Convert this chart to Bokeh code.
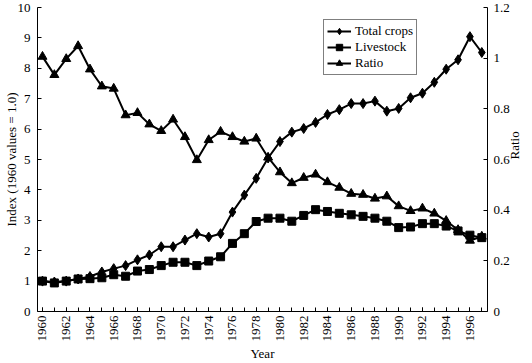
import math
from bokeh.plotting import figure
from bokeh.models import (Range1d, LinearAxis, FixedTicker, CustomJSTickFormatter,
                          Legend, LegendItem)
from bokeh.embed import file_html
from bokeh.resources import INLINE

years = list(range(1960, 1998))
total_crops = [1.00, 0.97, 1.00, 1.07, 1.15, 1.30, 1.41, 1.51, 1.70, 1.86,
               2.13, 2.13, 2.35, 2.56, 2.45, 2.56, 3.27, 3.83, 4.38, 5.05,
               5.59, 5.90, 6.02, 6.22, 6.48, 6.64, 6.84, 6.84, 6.92, 6.59,
               6.68, 7.03, 7.18, 7.54, 7.97, 8.28, 9.04, 8.52]
livestock = [1.00, 0.94, 1.00, 1.07, 1.08, 1.11, 1.21, 1.16, 1.33, 1.38,
             1.51, 1.62, 1.62, 1.51, 1.66, 1.80, 2.24, 2.56, 2.96, 3.07,
             3.07, 2.97, 3.16, 3.35, 3.29, 3.23, 3.18, 3.13, 3.07, 2.97,
             2.76, 2.78, 2.89, 2.89, 2.81, 2.65, 2.51, 2.43]
ratio = [1.006, 0.934, 0.997, 1.048, 0.956, 0.889, 0.880, 0.775, 0.784, 0.739,
         0.713, 0.758, 0.689, 0.598, 0.677, 0.710, 0.689, 0.671, 0.683, 0.608,
         0.550, 0.507, 0.528, 0.541, 0.511, 0.489, 0.465, 0.461, 0.446, 0.455,
         0.416, 0.397, 0.407, 0.387, 0.358, 0.322, 0.280, 0.296]

left_ticks = list(range(0, 11))
right_ticks = [0, 0.2, 0.4, 0.6, 0.8, 1.0, 1.2]
x_major = list(range(1960, 1998, 2))

x_title = "Year"
y_title = "Index (1960 values = 1.0)"
y2_title = "Ratio"

FONT = "Liberation Serif"
FS = "13px"
INK = "#000000"

p = figure(width=532, height=363, output_backend="svg", toolbar_location=None,
           x_range=Range1d(1959.58, 1997.48), y_range=Range1d(0, 10),
           min_border_left=36, min_border_right=42, min_border_top=7,
           min_border_bottom=51)
p.extra_y_ranges = {"ratio": Range1d(0, 1.2)}
p.outline_line_color = None
p.grid.visible = False
p.background_fill_color = "white"
p.border_fill_color = "white"

r1l = p.line(years, total_crops, line_color=INK, line_width=2)
r1m = p.scatter(years, total_crops, marker="diamond", size=10,
                fill_color=INK, line_color=INK)
r2l = p.line(years, livestock, line_color=INK, line_width=2)
r2m = p.scatter(years, livestock, marker="square", size=8,
                fill_color=INK, line_color=INK)
r3l = p.line(years, ratio, line_color=INK, line_width=2, y_range_name="ratio")
r3m = p.scatter(years, ratio, marker="triangle", size=9,
                fill_color=INK, line_color=INK, y_range_name="ratio")

xa = p.xaxis[0]
xa.ticker = FixedTicker(ticks=x_major, minor_ticks=years)
xa.major_label_orientation = math.pi / 2
xa.axis_label = x_title
xa.major_tick_in = 4
xa.major_tick_out = 0
xa.minor_tick_in = 4
xa.minor_tick_out = 0
xa.major_label_standoff = 4
xa.axis_label_standoff = 1

ya = p.yaxis[0]
ya.ticker = FixedTicker(ticks=left_ticks)
ya.axis_label = y_title
ya.major_tick_in = 4
ya.major_tick_out = 0
ya.minor_tick_in = 0
ya.minor_tick_out = 0
ya.major_label_standoff = 7
ya.axis_label_standoff = -4

ra = LinearAxis(y_range_name="ratio", ticker=FixedTicker(ticks=right_ticks),
                formatter=CustomJSTickFormatter(code="return String(Math.round(tick*10)/10);"),
                axis_label=y2_title)
ra.major_tick_in = 4
ra.major_tick_out = 0
ra.minor_tick_in = 0
ra.minor_tick_out = 0
ra.major_label_standoff = 6
ra.axis_label_standoff = 2
if "axis_label_orientation" in LinearAxis.properties():
    ra.axis_label_orientation = math.pi / 2
p.add_layout(ra, "right")

for ax in (xa, ya, ra):
    ax.axis_line_color = INK
    ax.axis_line_width = 1
    ax.major_tick_line_color = INK
    ax.minor_tick_line_color = INK
    ax.major_label_text_font = FONT
    ax.major_label_text_font_size = FS
    ax.major_label_text_color = INK
    ax.axis_label_text_font = FONT
    ax.axis_label_text_font_size = FS
    ax.axis_label_text_font_style = "normal"
    ax.axis_label_text_color = INK

legend = Legend(items=[LegendItem(label="Total crops", renderers=[r1l, r1m]),
                       LegendItem(label="Livestock", renderers=[r2l, r2m]),
                       LegendItem(label="Ratio", renderers=[r3l, r3m])],
                location=(286, 236))
legend.border_line_color = INK
legend.border_line_width = 1
legend.background_fill_color = "white"
legend.background_fill_alpha = 1
legend.label_text_font = FONT
legend.label_text_font_size = FS
legend.label_text_color = INK
legend.glyph_width = 24
legend.glyph_height = 16
legend.label_height = 16
legend.label_standoff = 4
legend.spacing = 0
legend.padding = 3
legend.margin = 0
p.add_layout(legend)

open("out.html", "w").write(file_html(p, INLINE))
